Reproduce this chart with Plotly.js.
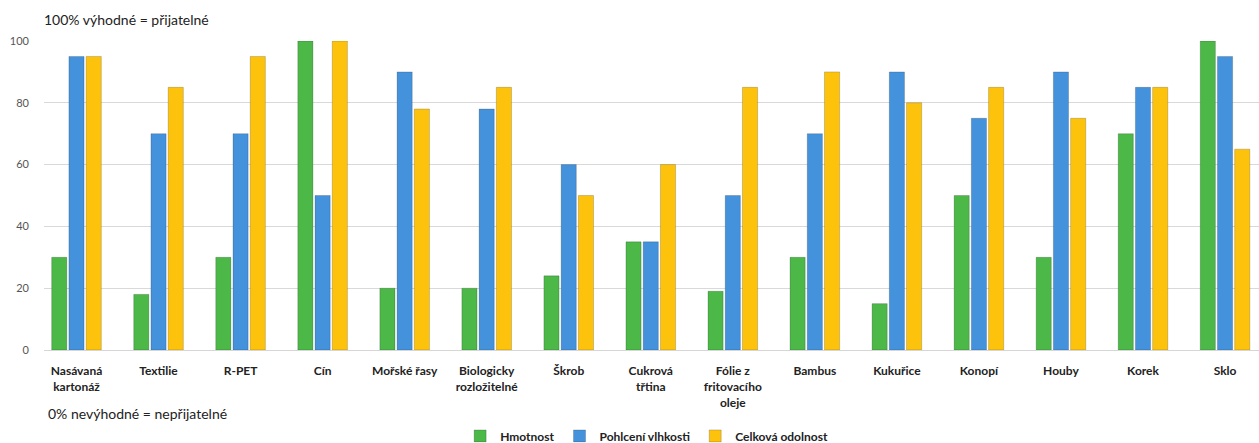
<!DOCTYPE html>
<html>
<head>
<meta charset="utf-8">
<script src="https://cdn.plot.ly/plotly-3.0.1.min.js"></script>
<style>html,body{margin:0;padding:0;background:#fff;}#chart{width:1259px;height:443px;}</style>
</head>
<body>
<div id="chart"></div>
<script>
const categories = ["Nasávaná<br>kartonáž", "Textilie", "R-PET", "Cín", "Mořské řasy", "Biologicky<br>rozložitelné", "Škrob", "Cukrová<br>třtina", "Fólie z<br>fritovacího<br>oleje", "Bambus", "Kukuřice", "Konopí", "Houby", "Korek", "Sklo"];
const hmotnost = [30, 18, 30, 100, 20, 20, 24, 35, 19, 30, 15, 50, 30, 70, 100];
const pohlceniVlhkosti = [95, 70, 70, 50, 90, 78, 60, 35, 50, 70, 90, 75, 90, 85, 95];
const celkovaOdolnost = [95, 85, 95, 100, 78, 85, 50, 60, 85, 90, 80, 85, 75, 85, 65];
const seriesNames = ["Hmotnost", "Pohlcení vlhkosti", "Celková odolnost"];
const yTicks = [0, 20, 40, 60, 80, 100];

const FONT = "Lato, 'Open Sans', 'Liberation Sans', sans-serif";
const colors = ["#4cb848", "#4592dc", "#fdc30c"];
const data = [hmotnost, pohlceniVlhkosti, celkovaOdolnost].map((vals, i) => ({
  type: "bar",
  name: seriesNames[i],
  x: categories,
  y: vals,
  marker: {color: colors[i], line: {color: "rgba(0,0,0,0.18)", width: 1}},
  hoverinfo: "x+y+name"
}));

const layout = {
  width: 1259, height: 443,
  autosize: false,
  margin: {l: 44, r: 0, t: 41, b: 93, autoexpand: false},
  paper_bgcolor: "#fff", plot_bgcolor: "#fff",
  font: {family: FONT, color: "#222"},
  barmode: "group",
  bargap: 0.37,
  bargroupgap: 0.12,
  title: {
    text: "100% výhodné = přijatelné",
    font: {family: FONT, size: 14, color: "#222"},
    xref: "paper", x: 0, xanchor: "left",
    yref: "container", y: 1 - 20/443, yanchor: "middle",
    automargin: false
  },
  xaxis: {
    type: "category",
    automargin: false,
    range: [-0.396, 14.414],
    showgrid: false,
    showline: true, linecolor: "#d6d6d6", linewidth: 1,
    ticks: "",
    tickangle: 0,
    ticklabelstandoff: 10,
    tickfont: {family: FONT, size: 12, color: "#222", weight: "bold"},
    fixedrange: true
  },
  yaxis: {
    automargin: false,
    range: [0, 100],
    tickvals: yTicks,
    ticktext: yTicks.map(String),
    showgrid: true, gridcolor: "#d9d9d9", gridwidth: 1,
    zeroline: false,
    showline: false,
    ticks: "",
    ticklabelstandoff: 14,
    tickfont: {family: FONT, size: 11, color: "#555"},
    fixedrange: true
  },
  legend: {
    orientation: "h",
    x: 0.496, xanchor: "center",
    y: -0.278, yanchor: "middle",
    font: {family: FONT, size: 12, color: "#222", weight: "bold"},
    itemwidth: 30,
    traceorder: "normal"
  },
  annotations: [{
    text: "0% nevýhodné = nepřijatelné",
    xref: "paper", yref: "paper",
    x: 0, xanchor: "left", xshift: 2,
    y: (350 - 413) / 309, yanchor: "middle",
    showarrow: false,
    font: {family: FONT, size: 14, color: "#222"}
  }],
  showlegend: true
};

Plotly.newPlot("chart", data, layout, {displayModeBar: false, staticPlot: true});
</script>
</body>
</html>
